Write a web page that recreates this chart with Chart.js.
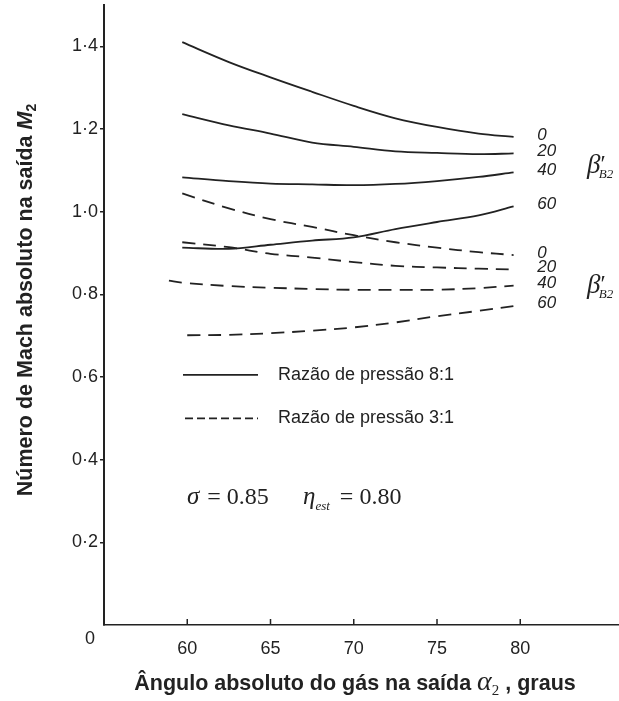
<!DOCTYPE html>
<html>
<head>
<meta charset="utf-8">
<script src="https://cdn.jsdelivr.net/npm/chart.js@4.4.1/dist/chart.umd.min.js"></script>
<style>
  html, body { margin: 0; padding: 0; background: #fff; }
  #wrap { width: 619px; height: 701px; }
</style>
</head>
<body>
<div id="wrap"><canvas id="machChart" width="619" height="701"></canvas></div>
<script>
// angle alpha2 (deg) where the curves were read
const alpha = [59.7, 62.5, 65, 67.5, 70, 72.5, 75, 77.5, 79.6];
const alphaD40 = [58.9, 59.7, 62.5, 65, 67.5, 70, 72.5, 75, 77.5, 79.6];
const alphaD60 = [60, 62.5, 65, 67.5, 70, 72.5, 75, 77.5, 80];

// pressure ratio 8:1 (solid)
const m8Beta0 = [1.410, 1.362, 1.325, 1.290, 1.256, 1.226, 1.205, 1.189, 1.181];
const m8Beta20 = [1.236, 1.209, 1.189, 1.167, 1.157, 1.146, 1.142, 1.139, 1.141];
const m8Beta40 = [1.083, 1.074, 1.068, 1.066, 1.064, 1.067, 1.074, 1.084, 1.095];
const m8Beta60 = [0.913, 0.910, 0.920, 0.930, 0.938, 0.958, 0.975, 0.991, 1.013];

// pressure ratio 3:1 (dashed)
const m3Beta0 = [1.044, 1.008, 0.982, 0.963, 0.943, 0.926, 0.913, 0.902, 0.895];
const m3Beta20 = [0.926, 0.914, 0.898, 0.889, 0.878, 0.869, 0.865, 0.862, 0.860];
const m3Beta40 = [0.833, 0.828, 0.820, 0.816, 0.813, 0.811, 0.811, 0.811, 0.815, 0.821];
const m3Beta60 = [0.701, 0.702, 0.706, 0.712, 0.720, 0.732, 0.747, 0.760, 0.774];

const betaLabels = ["0", "20", "40", "60"];
const xTickValues = [60, 65, 70, 75, 80];
const yTickValues = [0.2, 0.4, 0.6, 0.8, 1.0, 1.2, 1.4];

const INK = "#222";
const SANS = '"Liberation Sans", Arial, sans-serif';
const SERIF = '"Liberation Serif", "Times New Roman", serif';

function pts(xs, ys) {
    return ys.map((v, i) => ({ x: xs[i], y: v }));
}

function makeSet(xs, ys, dashed) {
    return {
        data: pts(xs, ys),
        borderColor: INK,
        borderWidth: 1.8,
        borderDash: dashed ? [13, 8] : [],
        pointRadius: 0,
        fill: false,
        tension: 0.35,
    };
}

// draws a row of text pieces with different fonts, centred on x
function drawRuns(ctx, runs, x, y) {
    let total = 0;
    runs.forEach((r) => { ctx.font = r.font; total += ctx.measureText(r.text).width; });
    let cx = x - total / 2;
    ctx.textAlign = "left";
    ctx.textBaseline = "alphabetic";
    runs.forEach((r) => {
        ctx.font = r.font;
        ctx.fillText(r.text, cx, y + (r.dy || 0));
        cx += ctx.measureText(r.text).width;
    });
}

function drawRunsLeft(ctx, runs, x, y) {
    let cx = x;
    ctx.textAlign = "left";
    ctx.textBaseline = "alphabetic";
    runs.forEach((r) => {
        ctx.font = r.font;
        ctx.fillText(r.text, cx + (r.dx || 0), y + (r.dy || 0));
        cx += ctx.measureText(r.text).width + (r.dx || 0);
    });
}

const extras = {
    id: "extras",
    afterDraw(chart) {
        const { ctx } = chart;
        const x = chart.scales.x;
        const y = chart.scales.y;
        ctx.save();
        ctx.fillStyle = INK;
        ctx.strokeStyle = INK;

        // inward tick marks on the x axis
        ctx.lineWidth = 1.5;
        xTickValues.forEach((v) => {
            const px = x.getPixelForValue(v);
            ctx.beginPath();
            ctx.moveTo(px, y.bottom);
            ctx.lineTo(px, y.bottom - 6);
            ctx.stroke();
        });

        // origin label
        ctx.font = "18px " + SANS;
        ctx.textAlign = "center";
        ctx.textBaseline = "middle";
        ctx.fillText("0", x.left - 14, y.bottom + 14);

        // beta labels at the end of each curve
        ctx.font = "italic 17px " + SANS;
        ctx.textAlign = "left";
        ctx.textBaseline = "middle";
        chart.data.datasets.forEach((ds, i) => {
            const last = ds.data[ds.data.length - 1];
            ctx.fillText(betaLabels[i % 4], x.getPixelForValue(80) + 17, y.getPixelForValue(last.y) - 2);
        });

        // beta'_B2 marks
        [1.115, 0.825].forEach((v) => {
            const py = y.getPixelForValue(v) + 9;
            drawRunsLeft(ctx, [
                { text: "\u03B2", font: "italic 27px " + SERIF },
                { text: "\u2032", font: "24px " + SERIF, dx: 0, dy: -2 },
                { text: "B2", font: "italic 13px " + SERIF, dx: -7, dy: 5 },
            ], 587, py);
        });

        // legend
        const lx0 = 183, lx1 = 258;
        const ly1 = y.getPixelForValue(0.605);
        const ly2 = y.getPixelForValue(0.5);
        ctx.lineWidth = 1.8;
        ctx.beginPath();
        ctx.moveTo(lx0, ly1);
        ctx.lineTo(lx1, ly1);
        ctx.stroke();
        ctx.setLineDash([8, 4]);
        ctx.beginPath();
        ctx.moveTo(lx0 + 2, ly2);
        ctx.lineTo(lx1, ly2);
        ctx.stroke();
        ctx.setLineDash([]);
        ctx.font = "18px " + SANS;
        ctx.textBaseline = "middle";
        ctx.fillText("Razão de pressão 8:1", 278, ly1);
        ctx.fillText("Razão de pressão 3:1", 278, ly2);

        // sigma / eta note
        const ny = y.getPixelForValue(0.3) + 3;
        drawRunsLeft(ctx, [
            { text: "\u03C3", font: "italic 25px " + SERIF },
            { text: " = 0.85", font: "24px " + SERIF, dx: 2 },
        ], 187, ny);
        drawRunsLeft(ctx, [
            { text: "\u03B7", font: "italic 25px " + SERIF },
            { text: "est", font: "italic 13px " + SERIF, dy: 6 },
            { text: " = 0.80", font: "24px " + SERIF, dx: 4 },
        ], 303, ny);

        // x axis title
        drawRuns(ctx, [
            { text: "Ângulo absoluto do gás na saída ", font: "bold 21.5px " + SANS },
            { text: "\u03B1", font: "italic 28px " + SERIF },
            { text: "2", font: "15px " + SERIF, dy: 5 },
            { text: " , graus", font: "bold 21.5px " + SANS },
        ], 355, 690);

        // y axis title
        ctx.translate(24, 300);
        ctx.rotate(-Math.PI / 2);
        drawRuns(ctx, [
            { text: "Número de Mach absoluto na saída ", font: "bold 21.5px " + SANS },
            { text: "M", font: "italic bold 21.5px " + SANS },
            { text: "2", font: "bold 14px " + SANS, dy: 4 },
        ], 0, 8);

        ctx.restore();
    },
};

const datasets = [
    makeSet(alpha, m8Beta0, false),
    makeSet(alpha, m8Beta20, false),
    makeSet(alpha, m8Beta40, false),
    makeSet(alpha, m8Beta60, false),
    makeSet(alpha, m3Beta0, true),
    makeSet(alpha, m3Beta20, true),
    makeSet(alphaD40, m3Beta40, true),
    makeSet(alphaD60, m3Beta60, true),
];

new Chart(document.getElementById("machChart"), {
    type: "line",
    data: { datasets },
    options: {
        responsive: false,
        animation: false,
        layout: { padding: { top: 5, right: 0, left: 0, bottom: 0 } },
        plugins: { legend: { display: false }, tooltip: { enabled: false } },
        scales: {
            x: {
                type: "linear",
                min: 55,
                max: 85.93,
                afterFit: (s) => { s.height = 76; s.paddingLeft = 0; s.paddingRight = 0; },
                afterBuildTicks: (s) => { s.ticks = [55].concat(xTickValues).map((v) => ({ value: v })); },
                ticks: {
                    autoSkip: false,
                    maxRotation: 0,
                    padding: 5,
                    color: INK,
                    font: { family: SANS, size: 18 },
                    callback: (v) => (v >= 60 ? String(v) : ""),
                },
                grid: { display: false },
                border: { display: true, color: INK, width: 1.5 },
            },
            y: {
                type: "linear",
                min: 0,
                max: 1.5,
                afterFit: (s) => { s.width = 104; s.paddingTop = 0; s.paddingBottom = 0; },
                afterBuildTicks: (s) => { s.ticks = yTickValues.map((v) => ({ value: v })); },
                ticks: {
                    padding: 2,
                    color: INK,
                    font: { family: SANS, size: 18 },
                    callback: (v) => v.toFixed(1).replace(".", "\u00B7"),
                },
                grid: { display: true, drawOnChartArea: false, drawTicks: true, tickLength: 4, color: INK, lineWidth: 1.5 },
                border: { display: true, color: INK, width: 2 },
            },
        },
    },
    plugins: [extras],
});
</script>
</body>
</html>
